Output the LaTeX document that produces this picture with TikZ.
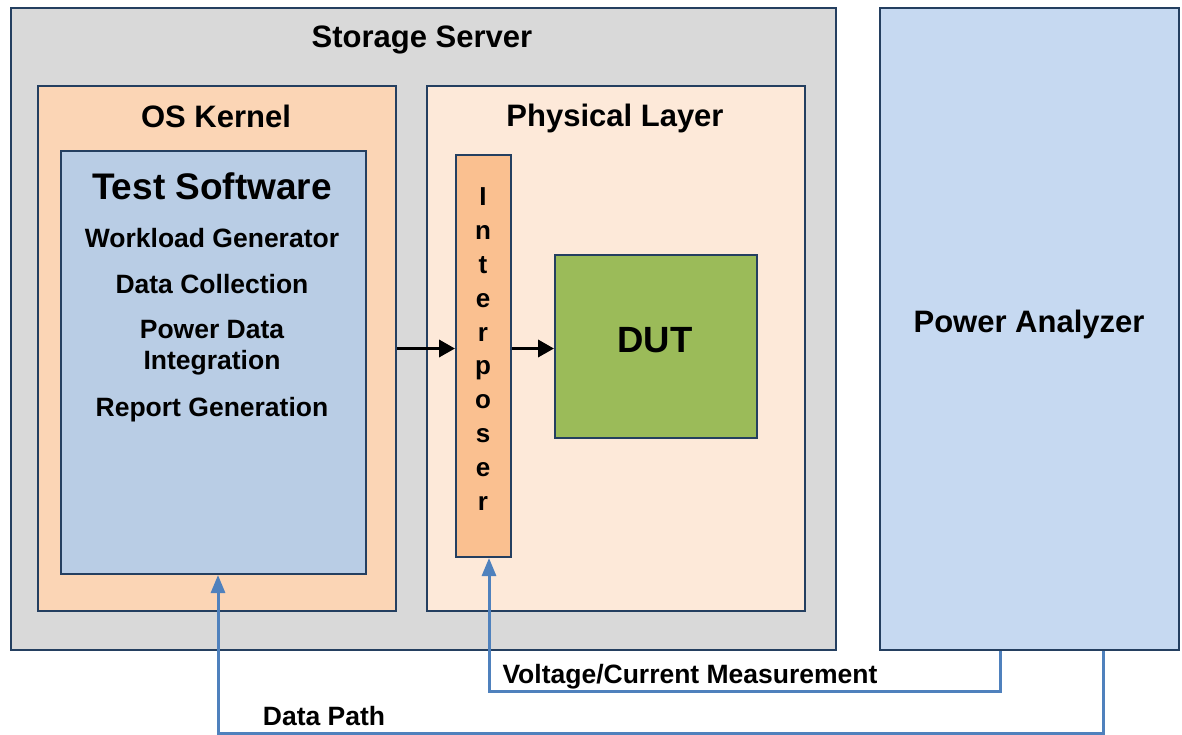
\documentclass[tikz,border=0pt]{standalone}
\usepackage{fontspec}
\setmainfont{Liberation Sans}
\usetikzlibrary{arrows.meta}
\definecolor{bord}{HTML}{243F60}
\definecolor{lblue}{HTML}{4F81BD}
\definecolor{srvfill}{HTML}{D9D9D9}
\definecolor{kernfill}{HTML}{FBD5B5}
\definecolor{tsfill}{HTML}{B9CDE5}
\definecolor{physfill}{HTML}{FDE9D9}
\definecolor{ipfill}{HTML}{FAC090}
\definecolor{dutfill}{HTML}{9BBB59}
\definecolor{pafill}{HTML}{C6D9F1}
\tikzset{
  box/.style={draw=bord, line width=2pt, anchor=north west, inner sep=0pt},
  lbl/.style={font=\fontsize{26.5}{31}\selectfont\bfseries, align=center, inner sep=0pt},
  ttl/.style={font=\fontsize{31}{36}\selectfont\bfseries, inner sep=0pt},
  blk/.style={line width=3.5pt, -{Triangle[length=16pt,width=17pt]}},
  bl/.style={draw=lblue, line width=3pt, -{Triangle[length=18pt,width=14pt]}},
}
\begin{document}
\begin{tikzpicture}[x=1pt,y=-1pt]
\useasboundingbox (0,0) rectangle (1182,734);
\node[box, fill=srvfill, minimum width=825pt, minimum height=642pt] (srv) at (10,7) {};
\node[box, fill=kernfill, minimum width=358pt, minimum height=525pt] (kern) at (37,85) {};
\node[box, fill=tsfill, minimum width=305pt, minimum height=423pt] (ts) at (60,150) {};
\node[box, fill=physfill, minimum width=378pt, minimum height=525pt] (phys) at (426,85) {};
\node[box, fill=ipfill, minimum width=55pt, minimum height=402pt] (ip) at (455,154) {};
\node[box, fill=dutfill, minimum width=202pt, minimum height=183pt] (dut) at (554,254) {};
\node[box, fill=pafill, minimum width=299pt, minimum height=642pt] (pa) at (879,7) {};

\node[ttl] (srvt) at (422,40) {Storage Server};
\node[ttl] (kernt) at (216,116) {OS Kernel};
\node[ttl] (physt) at (615,118) {Physical Layer};
\node[inner sep=0pt, font=\fontsize{37}{40}\selectfont\bfseries] (tst) at (212,186) {Test Software};
\node[lbl] (wg) at (212,238) {Workload Generator};
\node[lbl] (dc) at (212,284) {Data Collection};
\node[lbl] (pdi) at (212,348) {Power Data\\Integration};
\node[lbl] (rg) at (212,410) {Report Generation};
\node[inner sep=0pt, font=\fontsize{36.5}{40}\selectfont\bfseries] (dutt) at (655,340) {DUT};
\node[ttl] (pat) at (1029,324) {Power Analyzer};
\node[inner sep=0pt, align=center, font=\fontsize{26}{33.9}\selectfont\bfseries] (ipt) at (483,349) {I\\n\\t\\e\\r\\p\\o\\s\\e\\r};

\draw[blk] (kern.east) -- (kern.east -| ip.west);
\draw[blk] (kern.east -| ip.east) -- (kern.east -| dut.west);

\draw[bl] ([xshift=121pt]pa.south west) -- ++(0,40) coordinate (vc) -| ([xshift=34pt]ip.south west);
\draw[bl] ([xshift=224pt]pa.south west) -- ++(0,82) coordinate (dp) -| ([xshift=158pt]ts.south west);
\node[lbl] (vct) at (690,677) {Voltage/Current Measurement};
\node[lbl] (dpt) at (324,716) {Data Path};
\end{tikzpicture}
\end{document}
